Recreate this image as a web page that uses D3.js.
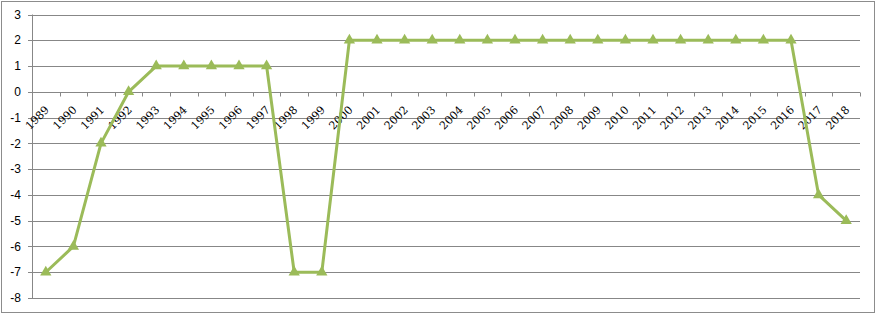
<!DOCTYPE html>
<html lang="en">
<head>
  <meta charset="UTF-8">
  <title>Line chart 1989-2018</title>
  <script src="https://d3js.org/d3.v7.min.js"></script>
  <style>
    body { margin: 0; background: #fff; }
    svg { display: block; }
    .ylab { font-family: "Liberation Sans", Arial, sans-serif; font-size: 12px; fill: #000; }
    .xlab { font-family: "DejaVu Serif", "Liberation Serif", serif; font-size: 11px; fill: #000; }
  </style>
</head>
<body>
  <div id="chart"></div>
  <script>
    const years = ["1989","1990","1991","1992","1993","1994","1995","1996","1997","1998",
                   "1999","2000","2001","2002","2003","2004","2005","2006","2007","2008",
                   "2009","2010","2011","2012","2013","2014","2015","2016","2017","2018"];
    const values = [-7, -6, -2, 0, 1, 1, 1, 1, 1, -7,
                    -7, 2, 2, 2, 2, 2, 2, 2, 2, 2,
                    2, 2, 2, 2, 2, 2, 2, 2, -4, -5];
    const yTicks = [3, 2, 1, 0, -1, -2, -3, -4, -5, -6, -7, -8];

    const W = 876, H = 314;
    const plot = { left: 32, right: 860, top: 14.5, bottom: 298 };
    const green = "#9BBB59";
    const grid = "#878787";

    const svg = d3.select("#chart").append("svg")
      .attr("width", W).attr("height", H);

    // outer frame
    svg.append("rect")
      .attr("x", 1.5).attr("y", 1.5)
      .attr("width", 873).attr("height", 311)
      .attr("fill", "none").attr("stroke", "#8c8c8c").attr("stroke-width", 1);

    const x = d3.scaleBand().domain(years).range([plot.left, plot.right]);
    const y = d3.scaleLinear().domain([-8, 3]).range([plot.bottom, plot.top]);

    // horizontal gridlines + left ticks
    svg.append("g").selectAll("line").data(yTicks).join("line")
      .attr("x1", plot.left - 4).attr("x2", plot.right)
      .attr("y1", d => Math.round(y(d)) + 0.5).attr("y2", d => Math.round(y(d)) + 0.5)
      .attr("stroke", grid).attr("stroke-width", 1);

    svg.append("g").selectAll("text").data(yTicks).join("text")
      .attr("class", "ylab")
      .attr("x", 21).attr("y", d => y(d))
      .attr("dy", "0.35em")
      .attr("text-anchor", "end")
      .text(d => d);

    // y axis line
    svg.append("line")
      .attr("x1", plot.left + 0.5).attr("x2", plot.left + 0.5)
      .attr("y1", plot.top).attr("y2", plot.bottom)
      .attr("stroke", grid);

    // category axis at zero
    const y0 = Math.round(y(0)) + 0.5;
    svg.append("line")
      .attr("x1", plot.left).attr("x2", plot.right)
      .attr("y1", y0).attr("y2", y0)
      .attr("stroke", grid);

    const bounds = years.map(d => x(d)).concat([x(years[years.length - 1]) + x.bandwidth()]);
    svg.append("g").selectAll("line").data(bounds).join("line")
      .attr("x1", d => Math.round(d) + 0.5).attr("x2", d => Math.round(d) + 0.5)
      .attr("y1", y0).attr("y2", y0 + 4)
      .attr("stroke", grid);

    svg.append("g").selectAll("text").data(years).join("text")
      .attr("class", "xlab")
      .attr("text-anchor", "end")
      .attr("transform", d => `translate(${x(d) + x.bandwidth() / 2 + 4},${y0 + 18}) rotate(-45)`)
      .text(d => d);

    // series line
    const pts = years.map((d, i) => [x(d) + x.bandwidth() / 2, y(values[i])]);
    svg.append("path")
      .attr("d", d3.line()(pts))
      .attr("fill", "none")
      .attr("stroke", green)
      .attr("stroke-width", 3)
      .attr("stroke-linejoin", "round");

    const tri = d3.symbol().type(d3.symbolTriangle).size(55);
    svg.append("g").selectAll("path").data(pts).join("path")
      .attr("d", tri)
      .attr("transform", d => `translate(${d[0]},${d[1]})`)
      .attr("fill", green);
  </script>
</body>
</html>
